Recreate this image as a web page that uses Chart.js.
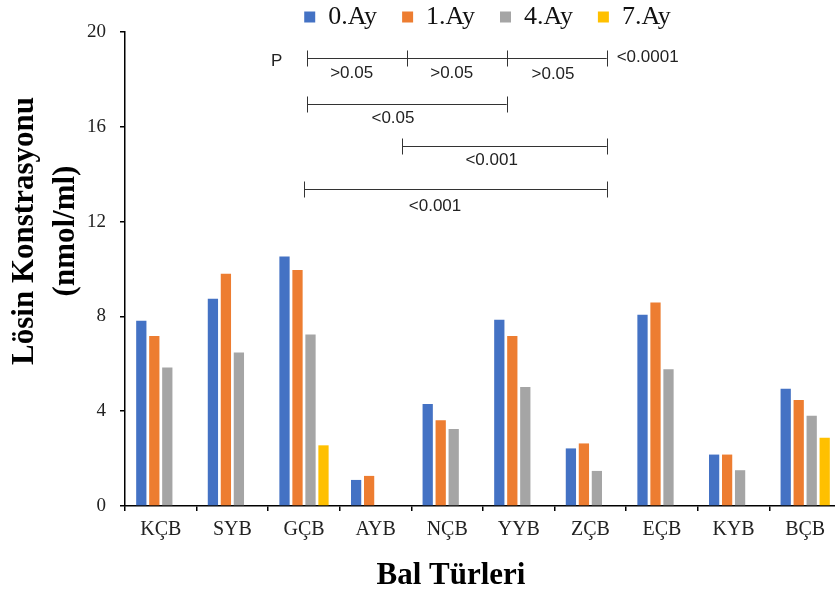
<!DOCTYPE html>
<html>
<head>
<meta charset="utf-8">
<script src="https://cdn.jsdelivr.net/npm/chart.js@4.4.1/dist/chart.umd.min.js"></script>
<style>
  html, body { margin: 0; padding: 0; background: #fff; overflow: hidden; }
  #wrap { width: 842px; height: 594px; }
</style>
</head>
<body>
<div id="wrap"><canvas id="c" width="842" height="594"></canvas></div>
<script>
// ---- data ----
const categories = ['KÇB', 'SYB', 'GÇB', 'AYB', 'NÇB', 'YYB', 'ZÇB', 'EÇB', 'KYB', 'BÇB'];
const seriesNames = ['0.Ay', '1.Ay', '4.Ay', '7.Ay'];
const ay0 = [7.82, 8.75, 10.53, 1.10, 4.30, 7.86, 2.43, 8.07, 2.17, 4.95];
const ay1 = [7.17, 9.80, 9.96, 1.27, 3.62, 7.17, 2.64, 8.59, 2.17, 4.47];
const ay4 = [5.84, 6.48, 7.24, null, 3.25, 5.02, 1.48, 5.77, 1.51, 3.81];
const ay7 = [null, null, 2.56, null, null, null, null, null, null, 2.88];
const yTicks = [0, 4, 8, 12, 16, 20];
const yTitleLines = ['Lösin Konstrasyonu', '(nmol/ml)'];
const xTitle = 'Bal Türleri';

// significance annotations (x in category-index units, y in value units)
const pBrackets = [
  { from: 2.046, to: 6.228, at: 18.89, marks: [2.046, 3.443, 4.831, 6.228] },
  { from: 2.046, to: 4.831, at: 16.95, marks: [2.046, 4.831] },
  { from: 3.373, to: 6.228, at: 15.19, marks: [3.373, 6.228] },
  { from: 2.004, to: 6.228, at: 13.36, marks: [2.004, 6.228] }
];
const pLabels = [
  { text: 'P', x: 1.619, y: 18.75, align: 'center' },
  { text: '>0.05', x: 2.666, y: 18.27, align: 'center' },
  { text: '>0.05', x: 4.063, y: 18.27, align: 'center' },
  { text: '>0.05', x: 5.478, y: 18.22, align: 'center' },
  { text: '<0.0001', x: 6.367, y: 18.92, align: 'left' },
  { text: '<0.05', x: 3.243, y: 16.37, align: 'center' },
  { text: '<0.001', x: 4.621, y: 14.60, align: 'center' },
  { text: '<0.001', x: 3.830, y: 12.63, align: 'center' }
];

const colors = ['#4472C4', '#ED7D31', '#A5A5A5', '#FFC000'];
const serif = "'Liberation Serif', 'Times New Roman', serif";

const extras = {
  id: 'extras',
  afterLayout(chart) {
    const lg = chart.legend;
    if (lg) {
      lg.left += 67; lg.right += 67;
      lg.top -= 21;
    }
  },
  afterDraw(chart) {
    const { ctx, scales: { x, y } } = chart;
    ctx.save();
    // brackets
    ctx.strokeStyle = '#333';
    ctx.lineWidth = 1;
    pBrackets.forEach(b => {
      const py = Math.round(y.getPixelForValue(b.at)) + 0.5;
      ctx.beginPath();
      ctx.moveTo(x.getPixelForValue(b.from), py);
      ctx.lineTo(x.getPixelForValue(b.to), py);
      b.marks.forEach(m => {
        const px = Math.round(x.getPixelForValue(m)) + 0.5;
        ctx.moveTo(px, py - 8);
        ctx.lineTo(px, py + 8);
      });
      ctx.stroke();
    });
    ctx.fillStyle = '#222';
    ctx.font = "17px 'Liberation Sans', Arial, sans-serif";
    ctx.textBaseline = 'middle';
    pLabels.forEach(l => {
      ctx.textAlign = l.align;
      ctx.fillText(l.text, x.getPixelForValue(l.x), y.getPixelForValue(l.y));
    });
    // axis titles
    ctx.fillStyle = '#000';
    ctx.font = 'bold 31px ' + serif;
    ctx.textAlign = 'center';
    ctx.textBaseline = 'alphabetic';
    ctx.fillText(xTitle, 451, 584);
    const yc = 231;
    [33, 74].forEach((bx, i) => {
      ctx.save();
      ctx.translate(bx, yc);
      ctx.rotate(-Math.PI / 2);
      ctx.fillText(yTitleLines[i], 0, 0);
      ctx.restore();
    });
    ctx.restore();
  }
};

const allSeries = [ay0, ay1, ay4, ay7];
new Chart(document.getElementById('c'), {
  type: 'bar',
  data: {
    labels: categories,
    datasets: allSeries.map((d, i) => ({
      label: seriesNames[i],
      data: d,
      backgroundColor: colors[i],
      borderWidth: 0,
      barPercentage: 0.79,
      categoryPercentage: 0.726
    }))
  },
  options: {
    responsive: false,
    devicePixelRatio: 1,
    animation: false,
    layout: { padding: { left: 0, right: 1, top: 0, bottom: 0 } },
    plugins: {
      tooltip: { enabled: false },
      legend: {
        display: true,
        position: 'top',
        maxHeight: 32,
        labels: {
          boxWidth: 11,
          boxHeight: 11,
          padding: 25,
          color: '#111',
          font: { family: serif, size: 26 }
        }
      }
    },
    scales: {
      x: {
        afterFit(s) { s.height = 88; },
        grid: { display: true, drawOnChartArea: false, drawTicks: true, tickLength: 5, color: '#000', lineWidth: 1.5 },
        border: { display: true, color: '#000', width: 1.5 },
        ticks: { color: '#222', padding: 7, font: { family: serif, size: 20 }, maxRotation: 0 }
      },
      y: {
        min: 0,
        max: 20,
        afterFit(s) { s.width = 125; },
        afterBuildTicks(s) { s.ticks = yTicks.map(v => ({ value: v })); },
        grid: { display: true, drawOnChartArea: false, drawTicks: true, tickLength: 5, color: '#000', lineWidth: 1.5 },
        border: { display: true, color: '#000', width: 1.5 },
        ticks: { color: '#222', padding: 14, font: { family: serif, size: 19 } }
      }
    }
  },
  plugins: [extras]
});
</script>
</body>
</html>
